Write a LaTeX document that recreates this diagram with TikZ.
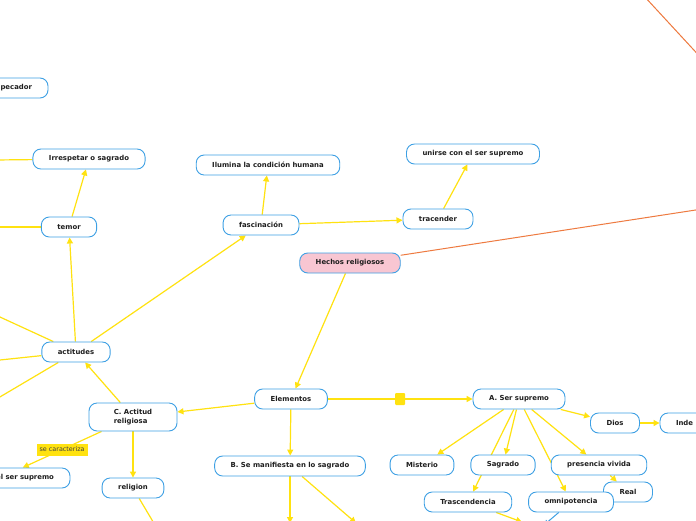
\documentclass[tikz,border=0pt]{standalone}
\usepackage{fontspec}
\setmainfont{DejaVu Sans}
\usetikzlibrary{arrows.meta, backgrounds}

\definecolor{mapblue}{RGB}{62,160,228}
\definecolor{mapyellow}{RGB}{255,226,16}
\definecolor{maporange}{RGB}{238,122,64}
\definecolor{mappink}{RGB}{248,198,210}
\definecolor{maptext}{RGB}{30,30,30}

\begin{document}
\begin{tikzpicture}[
    x=1pt, y=-1pt,
    topic/.style={rectangle, rounded corners=8pt, draw=mapblue, line width=0.9pt, fill=white, minimum height=20pt, inner xsep=16pt, inner ysep=2pt, text=maptext, font=\bfseries\fontsize{6.9}{8.5}\selectfont},
    root/.style={topic, fill=mappink},
    link/.style={draw=mapyellow, line width=1.2pt, -{Triangle[length=6pt,width=6pt]}},
    branch/.style={draw=mapyellow, line width=1.2pt},
    tag/.style={fill=mapyellow, inner xsep=3pt, inner ysep=0pt, minimum height=12pt, text=maptext!85, font=\fontsize{6.4}{7}\selectfont},
    joint/.style={fill=mapyellow, rounded corners=1pt, minimum width=10pt, minimum height=12pt, inner sep=0pt}
]
    \useasboundingbox (0,0) rectangle (696,520);

    % Nodes
    \node[root]  (hechos)    at (350,263) {Hechos religiosos};
    \node[topic] (elementos) at (291,399) {Elementos};
    \node[topic] (ser)       at (519,399) {A. Ser supremo};
    \node[topic] (manif)     at (290,466) {B. Se manifiesta en lo sagrado};
    \node[topic, minimum width=88pt, minimum height=28pt, align=left] (cact) at (133,417) {C. Actitud\\religiosa};
    \node[topic] (relig)     at (133,488) {religion};
    \node[topic, text width=108pt, align=right] (elser) at (0,478) {el ser supremo};

    \node[topic] (actit)     at (76,352)  {actitudes};
    \node[topic] (temor)     at (69,227)  {temor};
    \node[topic] (irresp)    at (89,159)  {Irrespetar o sagrado};
    \node[topic, text width=84pt, align=right] (pecador) at (-10,88) {pecador};
    \node[topic] (fasc)      at (261,225) {fascinación};
    \node[topic] (ilumina)   at (268,165) {Ilumina la condición humana};
    \node[topic] (trac)      at (438,219) {tracender};
    \node[topic] (unirse)    at (473,154) {unirse con el ser supremo};

    \node[topic] (dios)      at (615,423) {Dios};
    \node[topic, text width=58pt, align=left] (indep) at (705,423) {Inde};
    \node[topic] (misterio)  at (422,465) {Misterio};
    \node[topic] (sagrado)   at (503,465) {Sagrado};
    \node[topic] (presencia) at (599,465) {presencia vivida};
    \node[topic] (real)      at (628,492) {Real};
    \node[topic] (trasc)     at (468,502) {Trascendencia};
    \node[topic] (omni)      at (571,502) {omnipotencia};

    % Free ends outside the frame
    \coordinate (actitA)   at (-100,271);
    \coordinate (actitB)   at (-100,370.5);
    \coordinate (actitC)   at (-100,456);
    \coordinate (temorL)   at (-100,227);
    \coordinate (irrespL)  at (-100,161);
    \coordinate (religD)   at (190,584);
    \coordinate (manifD)   at (290,523);
    \coordinate (manifR)   at (356,523);
    \coordinate (trascD)   at (522,522);
    \coordinate (omniD)    at (544,525);
    \coordinate (hechosR)  at (800,194);
    \coordinate (cornerA)  at (620,-30);
    \coordinate (cornerB)  at (740,100);

    \begin{scope}[on background layer]
    \fill[white] (0,0) rectangle (696,520);

    % Edges
    \draw[link] (hechos) -- (elementos);
    \draw[link] (elementos) -- (manif);
    \draw[link] (elementos) -- (cact);
    \draw[link] (elementos) -- node[joint] {} (ser);

    \draw[link] (cact) -- (actit);
    \draw[link] (cact) -- (relig);
    \draw[link] (cact) -- node[tag] {se caracteriza} (elser);
    \draw[link] (relig) -- (religD);
    \draw[link] (manif) -- (manifD);
    \draw[link] (manif) -- (manifR);

    \draw[link] (actit) -- (temor);
    \draw[link] (actit) -- (fasc);
    \draw[link] (actit) -- (actitA);
    \draw[link] (actit) -- (actitB);
    \draw[link] (actit) -- (actitC);
    \draw[link] (temor) -- (irresp);
    \draw[link] (temor) -- (temorL);
    \draw[link] (irresp) -- (irrespL);

    \draw[link] (fasc) -- (ilumina);
    \draw[link] (fasc) -- (trac);
    \draw[link] (trac) -- (unirse);

    \draw[link] (ser) -- (misterio);
    \draw[link] (ser) -- (sagrado);
    \draw[link] (ser) -- (trasc);
    \draw[link] (ser) -- (omni);
    \draw[link] (ser) -- (presencia);
    \draw[link] (ser) -- (dios);
    \draw[link] (dios) -- (indep);
    \draw[link] (presencia) -- (real);
    \draw[link] (trasc) -- (trascD);
    \draw[draw=mapblue, line width=1pt, -{Triangle[length=5pt,width=5pt]}] (omni) -- (omniD);

    \draw[draw=maporange, line width=1pt] (hechos) -- (hechosR);
    \draw[draw=maporange, line width=1pt] (cornerA) -- (cornerB);
    \end{scope}

\end{tikzpicture}
\end{document}
